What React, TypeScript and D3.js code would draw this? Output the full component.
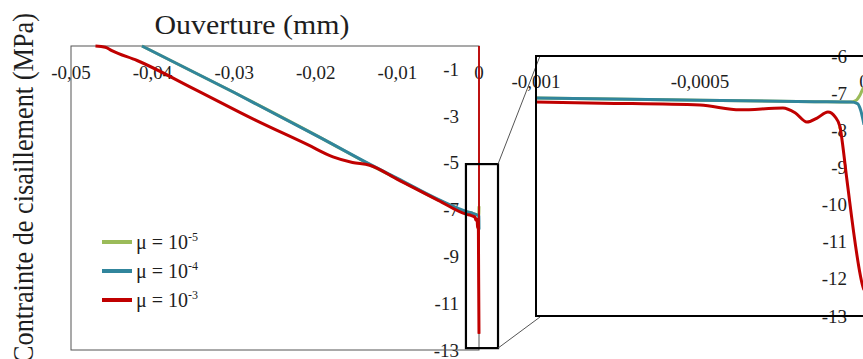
import React from "react";
import * as d3 from "d3";

// ---------- data ----------
const xTicksMain = [-0.05, -0.04, -0.03, -0.02, -0.01, 0];
const yTicksMain = [-1, -3, -5, -7, -9, -11, -13];
const xTicksInset = [-0.001, -0.0005, 0];
const yTicksInset = [-6, -7, -8, -9, -10, -11, -12, -13];

const fmtComma = (v: number) => (v === 0 ? "0" : String(v).replace(".", ","));

const seriesNames = ["μ = 10", "μ = 10", "μ = 10"];
const seriesExp = ["-5", "-4", "-3"];
const seriesColors = ["#9BBB59", "#31859C", "#C00000"];

// x: opening (mm), y: shear stress (MPa)
const green: [number, number][] = [
  [-0.0413, 0], [-0.03, -1.99], [-0.0191, -3.98], [-0.0134, -5.07], [-0.01, -5.68],
  [-0.005, -6.58], [-0.0015, -7.1], [-0.001, -7.13], [-0.0005, -7.19], [-0.00015, -7.23],
  [-0.00004, -7.24], [-0.000025, -7.2], [-0.000012, -7.05], [-0.000003, -6.88], [0, -6.85],
];
const teal: [number, number][] = [
  [-0.0413, 0], [-0.03, -1.99], [-0.0191, -3.98], [-0.0134, -5.05], [-0.01, -5.66],
  [-0.005, -6.56], [-0.0015, -7.08], [-0.001, -7.13], [-0.0005, -7.19], [-0.00015, -7.23],
  [-0.00004, -7.24], [-0.00002, -7.28], [-0.00001, -7.46], [-0.000003, -7.72], [0, -7.85],
];
const red: [number, number][] = [
  [-0.047, 0], [-0.0458, -0.05], [-0.045, -0.2], [-0.0419, -0.62], [-0.035, -1.82],
  [-0.0274, -3.17], [-0.021, -4.22], [-0.0179, -4.74], [-0.0155, -4.98], [-0.0134, -5.1],
  [-0.01, -5.7], [-0.005, -6.6], [-0.0015, -7.2], [-0.001, -7.24], [-0.0008, -7.27],
  [-0.0005, -7.32], [-0.000378, -7.45], [-0.000247, -7.4], [-0.00021, -7.53],
  [-0.000174, -7.78], [-0.000143, -7.67], [-0.00011, -7.51], [-0.000088, -7.64],
  [-0.000073, -7.91], [-0.000067, -8.26], [-0.000052, -9.34], [-0.000003, -12.22], [0, -12.3],
];
const redAxis: [number, number][] = [[0, 0], [0, -12.3]];
const seriesData = [green, teal, red];

const zoomX = [-0.0016, 0.00233];
const zoomY = [-5.05, -12.92];

// ---------- layout ----------
const W = 863, H = 359;
const TXT = "#1e1e1e";
const CSS = `.srf { font-family: "Liberation Serif", "Times New Roman"; }`;

const xMain = d3.scaleLinear().domain([-0.05, 0]).range([71, 479]);
const yMain = d3.scaleLinear().domain([0, -13]).range([46, 350]);
const xIn = d3.scaleLinear().domain([-0.001, 0]).range([536, 864]);
const yIn = d3.scaleLinear().domain([-6, -13]).range([56, 316]);

const lineMain = d3.line<[number, number]>().x(d => xMain(d[0])).y(d => yMain(d[1])).curve(d3.curveMonotoneX);
const lineIn = d3.line<[number, number]>().x(d => xIn(d[0])).y(d => yIn(d[1])).curve(d3.curveMonotoneX);
const lineStraightMain = d3.line<[number, number]>().x(d => xMain(d[0])).y(d => yMain(d[1]));

export default function App() {
  const [mx0, mx1] = xMain.range();
  const [my0, my1] = yMain.range();
  const zx0 = xMain(zoomX[0]), zx1 = xMain(zoomX[1]);
  const zy0 = yMain(zoomY[0]), zy1 = yMain(zoomY[1]);
  const ix0 = xIn.range()[0];
  const iy0 = yIn.range()[0], iy1 = yIn.range()[1];

  return (
    <svg width={W} height={H} style={{ position: "absolute", left: 0, top: 0, background: "#fff" }}>
      <style>{CSS}</style>
      <defs>
        <clipPath id="insetClip">
          <rect x={ix0} y={iy0} width={W - ix0 + 10} height={iy1 - iy0} />
        </clipPath>
      </defs>
      <rect x={0} y={0} width={W} height={H} fill="#fff" />

      <g className="srf" fontFamily="Liberation Serif">
        {/* titles */}
        <text x={252} y={34} textAnchor="middle" fontSize={28} fill={TXT} textLength={195} lengthAdjust="spacingAndGlyphs">
          Ouverture (mm)
        </text>
        <text transform={`translate(33,188) rotate(-90)`} textAnchor="middle" fontSize={29} fill={TXT} textLength={350} lengthAdjust="spacingAndGlyphs">
          Contrainte de cisaillement (MPa)
        </text>

        {/* main tick labels */}
        {xTicksMain.map(t => (
          <text key={"xm" + t} x={xMain(t)} y={my0 + 26} textAnchor="middle" dominantBaseline="central" fontSize={19} fill={TXT}>
            {fmtComma(t)}
          </text>
        ))}
        {yTicksMain.map(t => (
          <text key={"ym" + t} x={mx1 - 20} y={yMain(t)} textAnchor="end" dominantBaseline="central" fontSize={19} fill={TXT}>
            {fmtComma(t)}
          </text>
        ))}
      </g>

      {/* main frame */}
      <rect x={mx0} y={my0} width={mx1 - mx0} height={my1 - my0} fill="none" stroke="#555" strokeWidth={1} />

      {/* main series */}
      {seriesData.map((s, i) => (
        <path key={"sm" + i} d={lineMain(s) || ""} fill="none" stroke={seriesColors[i]} strokeWidth={3} strokeLinejoin="round" />
      ))}
      <path d={lineStraightMain(redAxis) || ""} fill="none" stroke={seriesColors[2]} strokeWidth={1.8} />

      {/* legend */}
      <g className="srf" fontFamily="Liberation Serif">
        {seriesNames.map((n, i) => (
          <g key={"lg" + i}>
            <line x1={102} x2={132} y1={242 + i * 29} y2={242 + i * 29} stroke={seriesColors[i]} strokeWidth={4} />
            <text x={136} y={242 + i * 29 + 7} fontSize={20} fill={TXT}>
              {n}
              <tspan fontSize={12} dy={-8}>{seriesExp[i]}</tspan>
            </text>
          </g>
        ))}
      </g>

      {/* zoom box and connectors */}
      <rect x={zx0} y={zy0} width={zx1 - zx0} height={zy1 - zy0} fill="none" stroke="#000" strokeWidth={2.2} />
      <line x1={zx1} y1={zy0} x2={ix0 + 4} y2={iy0} stroke="#555" strokeWidth={1} />
      <line x1={zx1} y1={zy1} x2={ix0 + 4} y2={iy1 + 1} stroke="#555" strokeWidth={1} />

      {/* inset labels */}
      <g className="srf" fontFamily="Liberation Serif">
        {xTicksInset.map(t => (
          <text key={"xi" + t} x={xIn(t)} y={iy0 + 25} textAnchor="middle" dominantBaseline="central" fontSize={19} fill={TXT}>
            {fmtComma(t)}
          </text>
        ))}
        {yTicksInset.map(t => (
          <text key={"yi" + t} x={xIn(0) - 17} y={yIn(t)} textAnchor="end" dominantBaseline="central" fontSize={19} fill={TXT}>
            {fmtComma(t)}
          </text>
        ))}
      </g>

      {/* inset series */}
      <g clipPath="url(#insetClip)">
        {seriesData.map((s, i) => (
          <path key={"si" + i} d={lineIn(s) || ""} fill="none" stroke={seriesColors[i]} strokeWidth={3} strokeLinejoin="round" />
        ))}
      </g>

      {/* inset frame */}
      <rect x={ix0} y={iy0} width={W - ix0 + 20} height={iy1 - iy0} fill="none" stroke="#000" strokeWidth={2} />
    </svg>
  );
}
